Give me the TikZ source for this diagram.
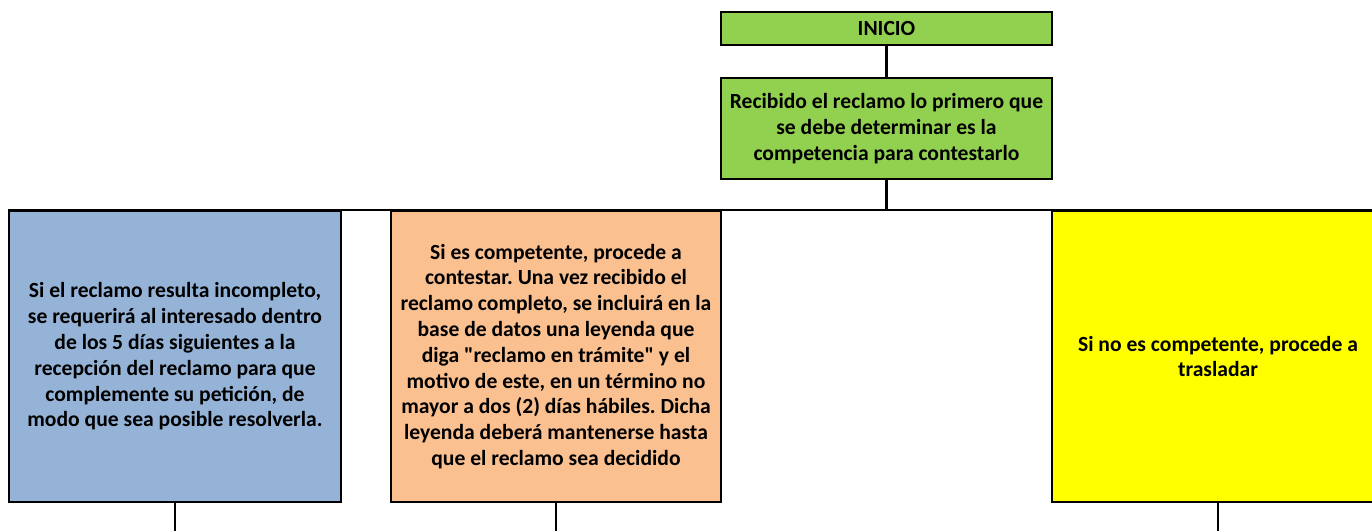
\documentclass[tikz,border=0pt]{standalone}
\usepackage{fontspec}
\setmainfont{Carlito}[Ligatures=TeXOff]
\frenchspacing
\definecolor{cgreen}{HTML}{92D050}
\definecolor{cblue}{HTML}{95B3D7}
\definecolor{corange}{HTML}{FAC090}
\definecolor{cyellow}{HTML}{FFFF00}
\begin{document}
\begin{tikzpicture}[x=1pt,y=1pt,
  box/.style={draw=black,line width=2.4pt,align=center,inner sep=0pt,
    font=\fontsize{21.6}{25.8}\selectfont\bfseries},
  tall/.style={box,minimum width=332pt,minimum height=291pt},
  conn/.style={line width=2.4pt}]
\useasboundingbox (0,0) rectangle (1372,-531);
\clip (0,0) rectangle (1372,-531);
\fill[white] (0,0) rectangle (1372,-531);
\node[box,fill=cgreen,minimum width=331pt,minimum height=33pt] (inicio) at (886.5,-28.5) {INICIO};
\node[box,fill=cgreen,minimum width=331pt,minimum height=101pt] (rec) at (886.5,-128.5)
  {Recibido el reclamo lo primero que\\se debe determinar es la\\competencia para contestarlo};
\node[tall,fill=cblue] (blue) at (175,-356.5)
  {Si el reclamo resulta incompleto,\\se requerirá al interesado dentro\\de los 5 días siguientes a la\\recepción del reclamo para que\\complemente su petición, de\\modo que sea posible resolverla.};
\node[tall,fill=corange,minimum width=330pt] (orange) at (556,-356.5)
  {Si es competente, procede a\\contestar. Una vez recibido el\\reclamo completo, se incluirá en la\\base de datos una leyenda que\\diga "reclamo en trámite" y el\\motivo de este, en un término no\\mayor a dos (2) días hábiles. Dicha\\leyenda deberá mantenerse hasta\\que el reclamo sea decidido};
\node[tall,fill=cyellow] (yellow) at (1218,-356.5)
  {Si no es competente, procede a\\trasladar};
\coordinate (b1) at (175,-531);
\coordinate (b2) at (556,-531);
\coordinate (b3) at (1218,-531);
\draw[conn] (inicio.south) -- (rec.north);
\draw[conn] (rec.south) -- (rec.south |- blue.north);
\draw[conn] (blue.north west) -- (yellow.north east);
\draw[conn] (blue.south) -- (b1);
\draw[conn] (orange.south) -- (b2);
\draw[conn] (yellow.south) -- (b3);
\end{tikzpicture}
\end{document}
